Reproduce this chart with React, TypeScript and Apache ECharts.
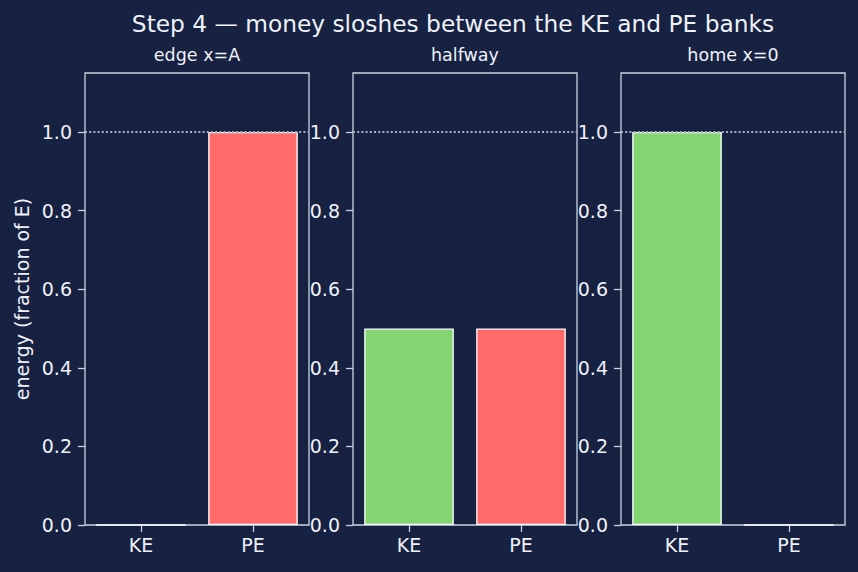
import React, { useEffect, useRef } from "react";
import * as echarts from "echarts";

// Energy split between kinetic (KE) and potential (PE) banks at three positions
const banks = ["KE", "PE"];
const panelTitles = ["edge x=A", "halfway", "home x=0"];
const keValues = [0.0, 0.5, 1.0];
const peValues = [1.0, 0.5, 0.0];
const yTickValues = [0, 0.2, 0.4, 0.6, 0.8, 1.0];
const totalEnergy = 1.0;

const BG = "#172142";
const FG = "#eef1f7";
const SPINE = "#cdd3e0";
const KE_COLOR = "#84d474";
const PE_COLOR = "#ff6b6b";
const FONT = "DejaVu Sans";

const PANEL_LEFT = 85;
const PANEL_WIDTH = 224;
const PANEL_STEP = 268;
const PANEL_TOP = 73;
const PANEL_HEIGHT = 452;

export default function App() {
  const ref = useRef<HTMLDivElement>(null);

  useEffect(() => {
    if (!ref.current) return;
    const chart = echarts.init(ref.current, undefined, { renderer: "svg" });

    const grids = panelTitles.map((_, i) => ({
      left: PANEL_LEFT + i * PANEL_STEP,
      top: PANEL_TOP,
      width: PANEL_WIDTH,
      height: PANEL_HEIGHT,
      show: true,
      borderColor: SPINE,
      borderWidth: 1.3,
      backgroundColor: "transparent",
      containLabel: false,
    }));

    const xAxes = panelTitles.map((_, i) => ({
      type: "category" as const,
      gridIndex: i,
      data: banks,
      axisLine: { show: false },
      axisTick: { show: true, alignWithLabel: true, length: 7, lineStyle: { color: SPINE, width: 1.3 } },
      axisLabel: { color: FG, fontSize: 19, fontFamily: FONT, margin: 10 },
      splitLine: { show: false },
    }));

    const yAxes = panelTitles.map((_, i) => ({
      type: "value" as const,
      gridIndex: i,
      min: 0,
      max: 1.15,
      interval: 0.2,
      axisLine: { show: false },
      axisTick: {
        show: true,
        length: 7,
        lineStyle: { color: SPINE, width: 1.3 },
        customValues: yTickValues,
      },
      axisLabel: {
        color: FG,
        fontSize: 19,
        fontFamily: FONT,
        margin: 13,
        customValues: yTickValues,
        formatter: (v: number) => v.toFixed(1),
      },
      splitLine: { show: false },
    }));

    const series = panelTitles.map((_, i) => ({
      type: "bar" as const,
      xAxisIndex: i,
      yAxisIndex: i,
      barWidth: "80%",
      data: [
        { value: keValues[i], itemStyle: { color: KE_COLOR } },
        { value: peValues[i], itemStyle: { color: PE_COLOR } },
      ],
      itemStyle: { borderColor: "#ffffff", borderWidth: 1.3 },
      markLine: {
        silent: true,
        symbol: "none",
        label: { show: false },
        lineStyle: { color: "#a6b0c6", type: [2, 2.2], width: 2 },
        data: [{ yAxis: totalEnergy }],
        z: 10,
      },
    }));

    const panelTitleTexts = panelTitles.map((t, i) => ({
      type: "text" as const,
      x: PANEL_LEFT + i * PANEL_STEP + PANEL_WIDTH / 2,
      y: 55,
      style: {
        text: t,
        fill: FG,
        font: `17.5px "${FONT}"`,
        textAlign: "center",
        textVerticalAlign: "middle",
      },
    }));

    chart.setOption({
      animation: false,
      backgroundColor: BG,
      grid: grids,
      xAxis: xAxes,
      yAxis: yAxes,
      series,
      graphic: [
        {
          type: "text",
          x: 453,
          y: 23,
          style: {
            text: "Step 4 — money sloshes between the KE and PE banks",
            fill: FG,
            font: `23.3px "${FONT}"`,
            textAlign: "center",
            textVerticalAlign: "middle",
          },
        },
        ...panelTitleTexts,
        {
          type: "text",
          x: 22,
          y: 299,
          rotation: Math.PI / 2,
          style: {
            text: "energy (fraction of E)",
            fill: FG,
            font: `19px "${FONT}"`,
            textAlign: "center",
            textVerticalAlign: "middle",
          },
        },
      ],
    });

    return () => chart.dispose();
  }, []);

  return <div ref={ref} style={{ width: 858, height: 572, position: "fixed", left: 0, top: 0 }} />;
}
